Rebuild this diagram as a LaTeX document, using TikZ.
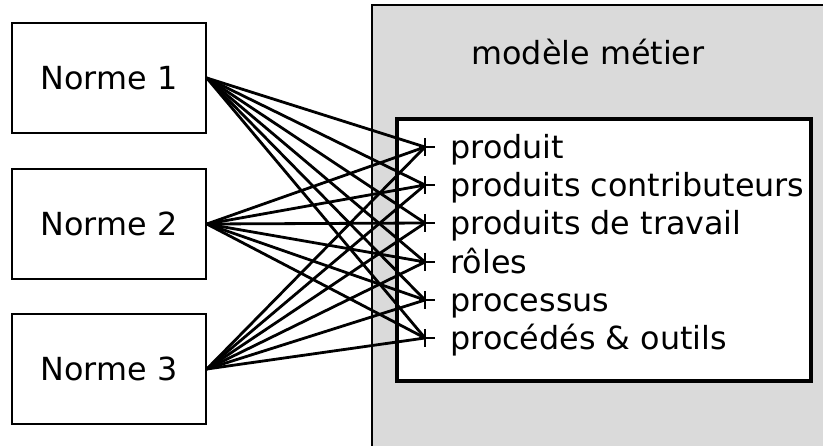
\documentclass[tikz,border=0pt]{standalone}
\usepackage{fontspec}
\setmainfont{DejaVu Sans}
\usepackage{tikz}
\usetikzlibrary{
  arrows.meta,
  positioning
}
\definecolor{panelgray}{RGB}{218, 218, 218}
\tikzset{
  normebox/.style={draw=black, line width=0.8pt, fill=white,
                   minimum width=97pt, minimum height=55pt, inner sep=0pt},
  itemlabel/.style={anchor=base west, inner sep=0pt},
  link/.style={line width=1.4pt},
  plusmark/.style={line width=1.1pt}
}

\begin{document}
\begin{tikzpicture}[x=0.5pt, y=-0.5pt, font=\fontsize{15.9}{19}\selectfont]
\useasboundingbox (0,0) rectangle (823,445);
\clip (0,0) rectangle (823,445);
% panneau du modele metier
\draw[fill=panelgray, line width=0.8pt] (372,5) rectangle (840,460);
\node at (588,52) {modèle métier};
\node[draw, fill=white, line width=2pt, minimum width=207pt, minimum height=131pt,
      inner sep=0pt] (modele) at (603.5,250) {};

\node[normebox] (norme1) at (109,78)  {Norme 1};
\node[normebox] (norme2) at (109,224) {Norme 2};
\node[normebox] (norme3) at (109,369) {Norme 3};

\foreach \lbl/\y [count=\i] in {produit/147, produits contributeurs/185,
    produits de travail/223, rôles/262, processus/300, procédés \& outils/338} {
  \coordinate (item\i) at (425,\y);
  \node[itemlabel] (lbl\i) at (450,\y+11.5) {\lbl};
}

\foreach \n in {1,2,3}
  \foreach \i in {1,...,6}
    \draw[link] (norme\n.east) -- (item\i);

% petites croix au bout des liens
\foreach \i in {1,...,6}
  \draw[plusmark] (item\i) +(-6,0) -- +(10,0) +(0,-9) -- +(0,9);
\end{tikzpicture}
\end{document}
